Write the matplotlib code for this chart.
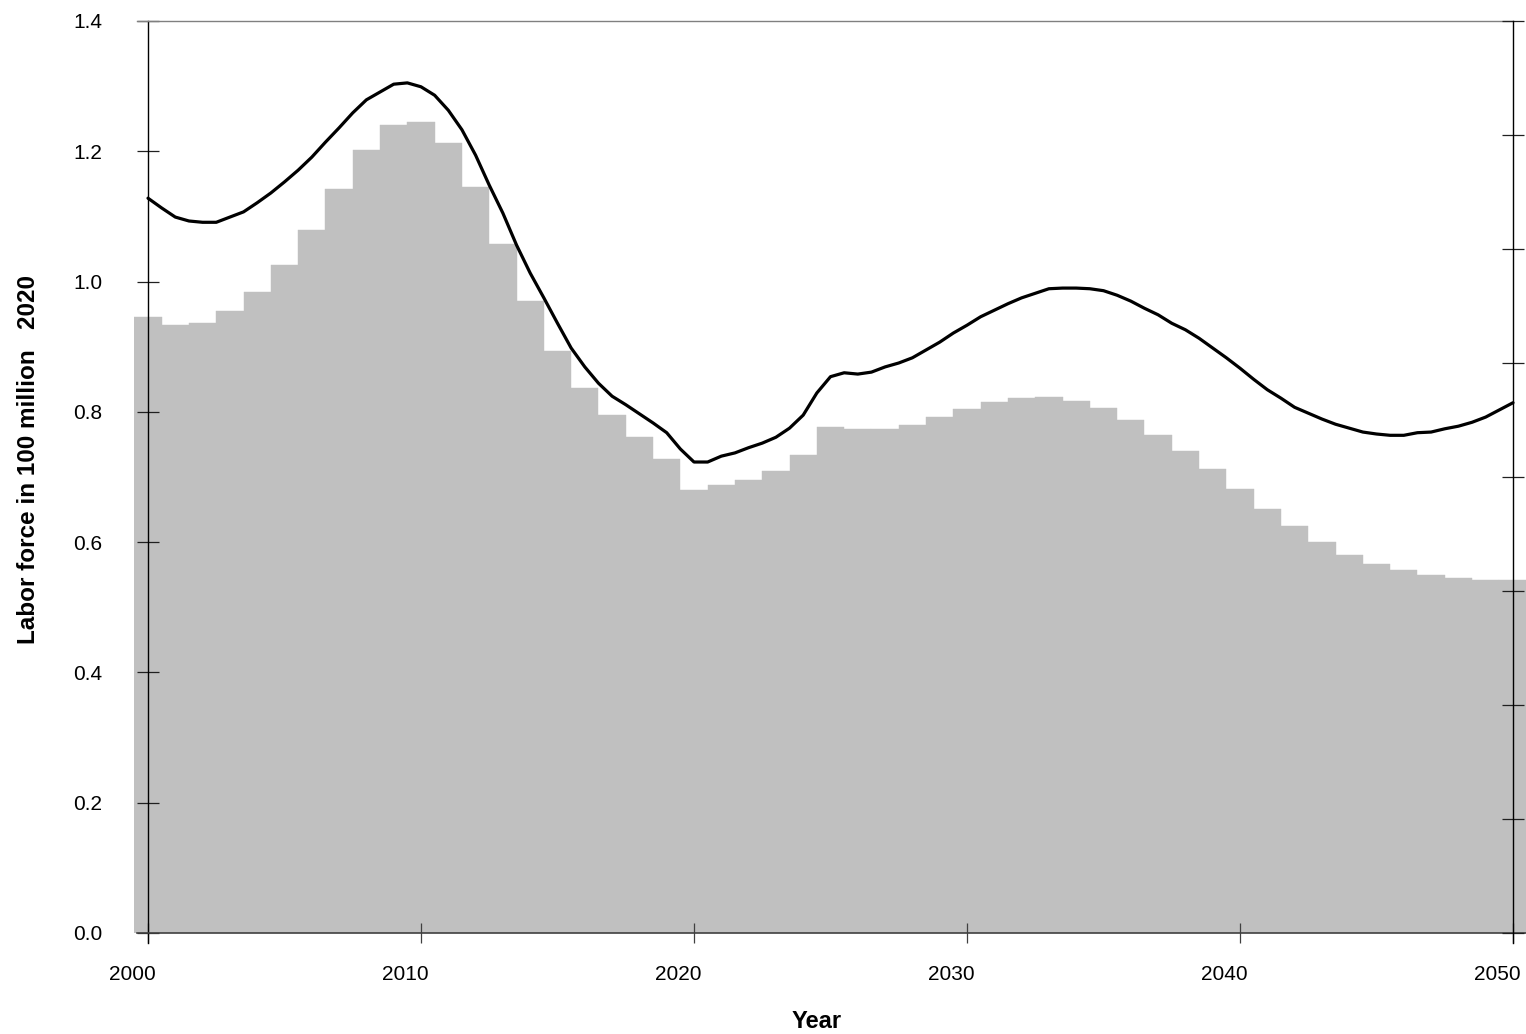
import numpy as np
import matplotlib
matplotlib.use("Agg")
import matplotlib.pyplot as plt
from matplotlib.transforms import ScaledTranslation

plt.rcParams['font.family'] = ['Liberation Sans', 'DejaVu Sans']

# bar series: one bar per year
years = np.arange(2000, 2051)
labor = [0.946, 0.933, 0.936, 0.955, 0.984, 1.025, 1.079, 1.142, 1.202, 1.240,
         1.245, 1.213, 1.145, 1.058, 0.970, 0.893, 0.837, 0.795, 0.761, 0.728,
         0.680, 0.688, 0.695, 0.709, 0.734, 0.777, 0.774, 0.774, 0.780, 0.792,
         0.804, 0.815, 0.821, 0.823, 0.817, 0.806, 0.788, 0.765, 0.740, 0.712,
         0.682, 0.651, 0.625, 0.600, 0.580, 0.566, 0.557, 0.550, 0.545, 0.542,
         0.542]

# smooth curve read every half year
curve_x = np.arange(2000, 2050.01, 0.5)
curve_y = [1.128, 1.113, 1.099, 1.093, 1.091, 1.091, 1.099, 1.107, 1.121, 1.136,
           1.153, 1.171, 1.191, 1.214, 1.236, 1.259, 1.279, 1.291, 1.303, 1.305,
           1.299, 1.286, 1.263, 1.233, 1.194, 1.148, 1.105, 1.056, 1.013, 0.975,
           0.936, 0.898, 0.869, 0.844, 0.824, 0.811, 0.797, 0.783, 0.768, 0.743,
           0.723, 0.723, 0.732, 0.737, 0.745, 0.752, 0.761, 0.775, 0.795, 0.829,
           0.854, 0.860, 0.858, 0.861, 0.869, 0.875, 0.883, 0.895, 0.907, 0.921,
           0.933, 0.946, 0.956, 0.966, 0.975, 0.982, 0.989, 0.990, 0.990, 0.989,
           0.986, 0.979, 0.970, 0.959, 0.949, 0.936, 0.926, 0.913, 0.898, 0.883,
           0.867, 0.850, 0.834, 0.821, 0.807, 0.798, 0.789, 0.781, 0.775, 0.769,
           0.766, 0.764, 0.764, 0.768, 0.769, 0.774, 0.778, 0.784, 0.792, 0.803,
           0.814]

yticks = np.arange(0, 1.41, 0.2)
xticks = np.arange(2000, 2051, 10)

W, H = 1526, 1034
fig = plt.figure(figsize=(W / 100, H / 100), dpi=100)
ppy = (1513 - 148) / 50.0
x0 = 2000 - (148 - 134) / ppy
x1 = 2000 + (W - 148) / ppy
ax = fig.add_axes([134 / W, (H - 933) / H, (W - 134) / W, 912 / H])

ax.bar(years, labor, width=1.0, color='#c0c0c0', edgecolor='#c0c0c0',
       linewidth=0.3, zorder=1)
ax.plot(curve_x, curve_y, color='black', lw=2.3, zorder=3,
        solid_joinstyle='round', solid_capstyle='round')

ax.set_xlim(x0, x1)
ax.set_ylim(0, 1.4)

ax.spines['left'].set_position(('data', 2000))
ax.spines['left'].set_bounds(-0.015, 1.4)
ax.spines['left'].set_linewidth(1.0)
ax.spines['right'].set_visible(False)
ax.spines['top'].set_bounds(2000 - 11 / ppy, 2050)
ax.spines['top'].set_color('#808080')
ax.spines['top'].set_linewidth(1.0)
ax.spines['bottom'].set_bounds(2000 - 11 / ppy, x1)
ax.spines['bottom'].set_color('#404040')
ax.spines['bottom'].set_linewidth(1.2)

ax.set_yticks(yticks)
ax.set_yticklabels([f"{v:.1f}" for v in yticks])
ax.set_xticks(xticks)
ax.set_xticklabels([str(v) for v in xticks])
ax.tick_params(axis='y', direction='inout', length=16, width=0.9,
               labelsize=15, pad=25, color='#202020')
ax.tick_params(axis='x', direction='inout', length=14.5, width=0.9,
               labelsize=15, pad=16, color='#404040')
# year labels sit a little left of their ticks
shift = ScaledTranslation(-16 / 100, 0, fig.dpi_scale_trans)
for lab in ax.get_xticklabels():
    lab.set_transform(lab.get_transform() + shift)

# right axis: unlabelled ticks
ax2 = ax.twinx()
ax2.set_ylim(0, 1.4)
for s in ['left', 'top', 'bottom']:
    ax2.spines[s].set_visible(False)
ax2.spines['right'].set_position(('data', 2050))
ax2.spines['right'].set_bounds(-0.015, 1.4)
ax2.spines['right'].set_linewidth(1.0)
ax2.set_yticks(np.linspace(0, 1.4, 9))
ax2.set_yticklabels([])
ax2.tick_params(axis='y', direction='inout', length=16, width=0.9,
                color='#202020')

fig.text(29 / W, 1 - 460 / H, 'Labor force in 100 million   2020',
         rotation=90, ha='center', va='center', fontsize=17.5, fontweight='bold')
fig.text(817 / W, 1 - 1022 / H, 'Year', ha='center', va='center',
         fontsize=17, fontweight='bold')

fig.savefig('out.png', dpi=100)
